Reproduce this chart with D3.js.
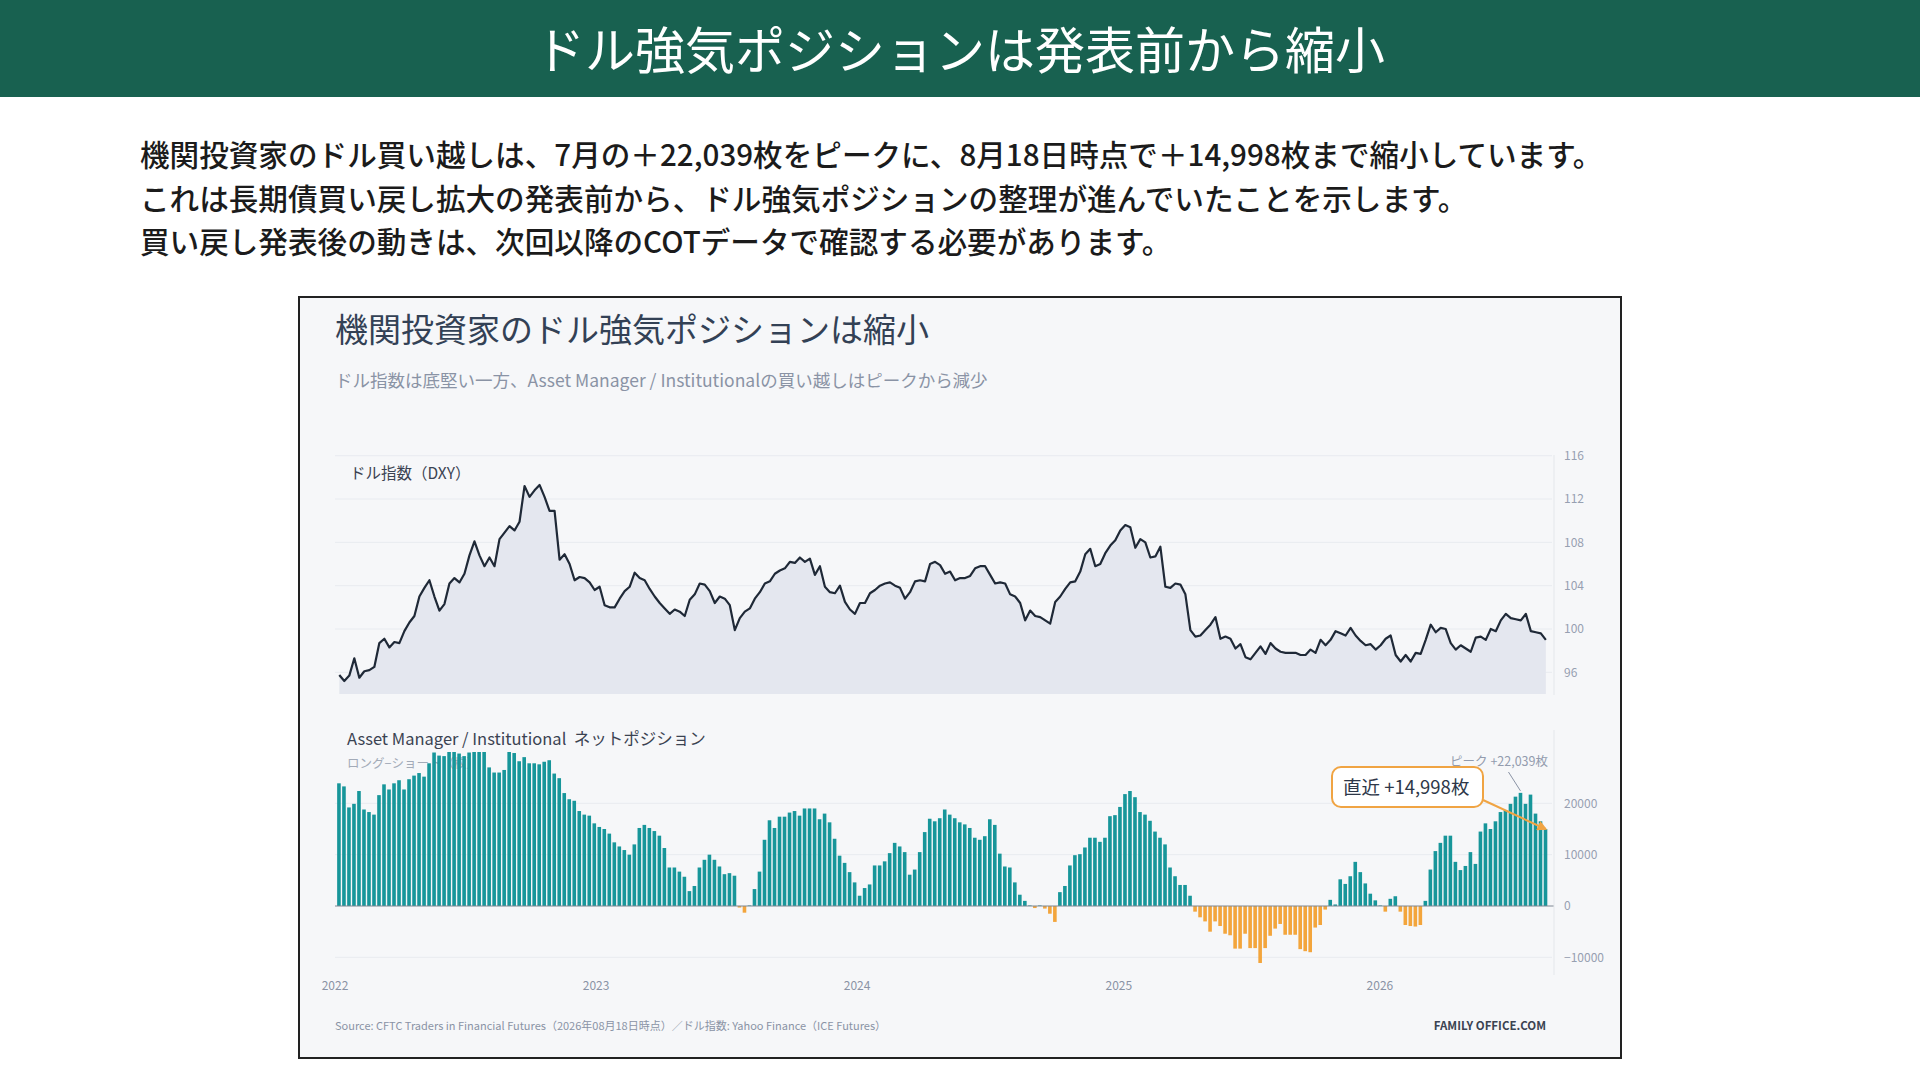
<!DOCTYPE html>
<html>
  <head>
    <meta charset="utf-8" />
    <title>ドル強気ポジションは発表前から縮小</title>
    <script src="https://cdn.jsdelivr.net/npm/d3@7"></script>
    <style>
      body { margin: 0; background: #fff; }
      svg text { font-family: "Noto Sans CJK JP", "Noto Sans", sans-serif; white-space: pre; }
    </style>
  </head>

  <body>
    <svg width="1920" height="1080"></svg>

    <script type="text/javascript">
      // weekly COT report dates (Tuesdays)
      var firstDate = new Date(2022, 0, 4),
        lastDate = new Date(2026, 7, 18);

      // Asset Manager / Institutional net position (contracts)
      var netPos = [
        23900, 23300, 19200, 19900, 22400, 18800, 18300, 17800, 21600, 23700,
        22700, 23900, 24500, 22700, 24700, 25400, 25900, 25200, 27800, 29900,
        29300, 29200, 30300, 30300, 29700, 29200, 29900, 30300, 30300, 30300,
        27000, 26000, 26000, 26500, 30300, 29800, 28200, 29000, 27800, 27800,
        27600, 28100, 28400, 25800, 24900, 22000, 20800, 20500, 18500, 17800,
        17600, 16100, 15400, 15000, 14100, 12400, 11600, 10900, 10000, 12000,
        15200, 15800, 15200, 14600, 13700, 11300, 7500, 7500, 6700, 5700,
        2900, 3900, 7500, 9000, 10000, 9000, 7700, 6200, 6400, 5900,
        -300, -1300, 100, 3300, 6700, 12900, 16700, 15200, 17400, 17400,
        18200, 18500, 17600, 19000, 19000, 19000, 16900, 18000, 16300, 13100,
        9800, 8400, 6600, 4600, 2000, 3500, 4200, 7900, 7900, 8700,
        10300, 12300, 11600, 10500, 6100, 7100, 10500, 14400, 17000, 16500,
        17100, 18800, 17800, 17100, 16300, 15900, 15200, 13300, 12900, 13600,
        16900, 15800, 10200, 7700, 7500, 4600, 2200, 1000, 100, -400,
        100, -500, -1500, -3100, 2700, 3900, 7900, 9900, 10100, 11400,
        13300, 13300, 12500, 13300, 17500, 17700, 19300, 21800, 22400, 21200,
        18300, 17800, 16600, 14500, 13300, 12000, 7500, 5800, 4100, 4100,
        2000, -1100, -2200, -3000, -5000, -3000, -3900, -5400, -5700, -8300,
        -8300, -5400, -8200, -8200, -11100, -8200, -5800, -4400, -3500, -5600,
        -5600, -5600, -8400, -8800, -9000, -4200, -3700, -700, 1200, 300,
        5200, 4300, 5800, 8600, 6600, 4400, 2400, 1100, 100, -1100,
        1400, 1900, -1100, -3700, -3900, -4000, -3700, 1000, 7100, 10700,
        12300, 13700, 13700, 8600, 7000, 7800, 10500, 8200, 14500, 16100,
        15000, 16500, 18300, 18700, 19900, 21300, 22039, 19900, 21700, 18000,
        16500, 14998
      ];

      // Dollar index (DXY), weekly close
      var dxy = [
        95.75, 95.2, 95.7, 97.3, 95.5, 96.1, 96.2, 96.5, 98.7, 99.1,
        98.3, 98.8, 98.7, 99.8, 100.6, 101.2, 103.0, 103.8, 104.5, 103.0,
        101.7, 102.3, 104.2, 104.7, 104.3, 105.1, 106.8, 108.1, 106.8, 105.8,
        106.6, 105.8, 108.3, 108.9, 109.5, 109.1, 109.9, 113.2, 112.2, 112.8,
        113.3, 112.2, 110.9, 110.9, 106.4, 106.9, 106.0, 104.5, 104.8, 104.7,
        104.3, 103.6, 103.9, 102.2, 102.0, 102.0, 102.8, 103.5, 103.9, 105.2,
        104.7, 104.5, 103.7, 103.0, 102.4, 101.9, 101.4, 101.8, 101.6, 101.2,
        102.7, 103.2, 104.2, 104.1, 103.5, 102.4, 103.0, 102.8, 102.2, 99.9,
        101.0, 101.6, 101.9, 102.8, 103.4, 104.2, 104.4, 105.1, 105.4, 105.6,
        106.2, 106.1, 106.6, 106.2, 106.5, 105.0, 105.8, 103.9, 103.4, 103.3,
        104.0, 102.5, 101.8, 101.4, 102.4, 102.4, 103.3, 103.6, 104.0, 104.2,
        104.3, 104.0, 103.8, 102.8, 103.4, 104.4, 104.5, 104.4, 106.0, 106.2,
        105.9, 105.1, 105.3, 104.5, 104.7, 104.7, 104.9, 105.6, 105.8, 105.8,
        105.0, 104.2, 104.3, 104.2, 103.2, 103.0, 102.4, 100.8, 101.7, 101.2,
        101.1, 100.8, 100.5, 102.5, 103.0, 103.7, 104.3, 104.4, 105.3, 106.9,
        107.4, 105.8, 106.0, 107.0, 107.7, 108.2, 109.1, 109.6, 109.4, 107.5,
        108.3, 108.0, 106.6, 106.7, 107.6, 103.9, 103.8, 104.2, 104.1, 103.2,
        99.9, 99.3, 99.4, 99.9, 100.4, 101.1, 99.1, 99.3, 99.1, 98.2,
        98.6, 97.4, 97.2, 97.8, 98.4, 97.7, 98.7, 98.2, 97.9, 97.8,
        97.8, 97.8, 97.6, 97.6, 98.1, 97.8, 99.0, 98.5, 99.0, 99.8,
        99.6, 99.4, 100.1, 99.4, 98.9, 98.5, 98.6, 98.1, 98.5, 99.1,
        99.4, 97.6, 97.0, 97.6, 97.0, 97.8, 97.7, 99.0, 100.4, 99.7,
        100.1, 100.0, 98.7, 98.1, 98.5, 98.2, 97.9, 99.2, 99.3, 99.0,
        100.0, 99.8, 100.8, 101.4, 101.0, 100.9, 100.8, 101.4, 99.8, 99.7,
        99.6, 99.0
      ];

      var yearTicks = [2022, 2023, 2024, 2025, 2026];
      var dxyTicks = [96, 100, 104, 108, 112, 116];
      var posTicks = [-10000, 0, 10000, 20000];

      var bodyLines = [
        "機関投資家のドル買い越しは、7月の＋22,039枚をピークに、8月18日時点で＋14,998枚まで縮小しています。",
        "これは長期債買い戻し拡大の発表前から、ドル強気ポジションの整理が進んでいたことを示します。",
        "買い戻し発表後の動きは、次回以降のCOTデータで確認する必要があります。"
      ];

      var dates = d3.timeTuesday.range(firstDate, d3.timeDay.offset(lastDate, 1));
      var data = dates.map(function (d, i) {
        // DXY is the Friday close of the same week
        return { date: d, fri: d3.timeDay.offset(d, 3), pos: netPos[i], dxy: dxy[i] };
      });

      var svg = d3.select("svg");

      // header band
      svg.append("rect").attr("width", 1920).attr("height", 97).attr("fill", "#186150");
      svg.append("text")
        .attr("x", 960).attr("y", 69)
        .attr("text-anchor", "middle")
        .attr("fill", "#fff")
        .attr("font-size", 50)
        .attr("font-weight", 400)
        .text("ドル強気ポジションは発表前から縮小");

      svg.selectAll(".body-line")
        .data(bodyLines)
        .enter()
        .append("text")
        .attr("class", "body-line")
        .attr("x", 140)
        .attr("y", function (d, i) { return 166 + i * 43.5; })
        .attr("fill", "#1b1b1b")
        .attr("font-size", 29.6)
        .attr("font-weight", 500)
        .text(function (d) { return d; });

      // chart card
      svg.append("rect")
        .attr("x", 299).attr("y", 297)
        .attr("width", 1322).attr("height", 761)
        .attr("fill", "#f6f7f9")
        .attr("stroke", "#222")
        .attr("stroke-width", 2);

      svg.append("text")
        .attr("x", 335).attr("y", 342)
        .attr("fill", "#334155")
        .attr("font-size", 33)
        .text("機関投資家のドル強気ポジションは縮小");

      svg.append("text")
        .attr("x", 335).attr("y", 387)
        .attr("fill", "#8a93a5")
        .attr("font-size", 17.5)
        .text("ドル指数は底堅い一方、Asset Manager / Institutionalの買い越しはピークから減少");

      var left = 335, right = 1548, axisX = 1554;

      var x = d3.scaleTime()
        .domain([new Date(2022, 0, 1), new Date(2026, 7, 24)])
        .range([left, right]);

      // ---- DXY panel ----
      var yD = d3.scaleLinear().domain([94, 116]).range([694, 455.7]);

      svg.append("g")
        .selectAll("line")
        .data(dxyTicks)
        .enter()
        .append("line")
        .attr("x1", left).attr("x2", axisX - 2)
        .attr("y1", function (d) { return yD(d); })
        .attr("y2", function (d) { return yD(d); })
        .attr("stroke", "#e8ebf0");

      var area = d3.area()
        .x(function (d) { return x(d.fri); })
        .y0(yD(94))
        .y1(function (d) { return yD(d.dxy); });

      var line = d3.line()
        .x(function (d) { return x(d.fri); })
        .y(function (d) { return yD(d.dxy); });

      svg.append("path").attr("d", area(data)).attr("fill", "#e4e7ef");
      svg.append("path")
        .attr("d", line(data))
        .attr("fill", "none")
        .attr("stroke", "#1f2937")
        .attr("stroke-width", 2.2)
        .attr("stroke-linejoin", "round");

      var dAxis = svg.append("g")
        .attr("transform", "translate(" + axisX + ",0)")
        .call(d3.axisRight(yD).tickValues(dxyTicks).tickSize(0).tickPadding(10));
      dAxis.select(".domain").attr("stroke", "#e4e7eb").attr("d", "M0,455V695");
      dAxis.selectAll("text")
        .attr("fill", "#97a0b1")
        .attr("font-size", 12)
        .style("font-family", "'Noto Sans CJK JP', sans-serif");

      svg.append("text")
        .attr("x", 350).attr("y", 479)
        .attr("fill", "#3b4352")
        .attr("font-size", 15.5)
        .text("ドル指数（DXY）");

      // ---- net position panel ----
      var yP = d3.scaleLinear().domain([-13440, 30000]).range([975, 752]);
      var bw = 3.6;

      svg.append("g")
        .selectAll("line")
        .data(posTicks.filter(function (d) { return d !== 0; }))
        .enter()
        .append("line")
        .attr("x1", left).attr("x2", axisX - 2)
        .attr("y1", function (d) { return yP(d); })
        .attr("y2", function (d) { return yP(d); })
        .attr("stroke", "#e8ebf0");

      svg.append("text")
        .attr("x", 347).attr("y", 745)
        .attr("fill", "#3b4352")
        .attr("font-size", 16.5)
        .text("Asset Manager / Institutional  ネットポジション");

      svg.append("text")
        .attr("x", 347).attr("y", 768)
        .attr("fill", "#a3abb8")
        .attr("font-size", 12.5)
        .text("ロング−ショート（枚）");

      svg.append("clipPath").attr("id", "clipBars")
        .append("rect").attr("x", left - 2).attr("y", 752).attr("width", 1230).attr("height", 230);

      svg.append("g")
        .attr("clip-path", "url(#clipBars)")
        .selectAll("rect")
        .data(data)
        .enter()
        .append("rect")
        .attr("x", function (d) { return x(d.date); })
        .attr("width", bw)
        .attr("y", function (d) { return yP(Math.max(0, d.pos)); })
        .attr("height", function (d) { return Math.abs(yP(d.pos) - yP(0)); })
        .attr("fill", function (d) { return d.pos >= 0 ? "#17969a" : "#f3a53c"; });

      svg.append("line")
        .attr("x1", left).attr("x2", axisX)
        .attr("y1", yP(0)).attr("y2", yP(0))
        .attr("stroke", "#7f8794")
        .attr("stroke-width", 1.2);

      var pAxis = svg.append("g")
        .attr("transform", "translate(" + axisX + ",0)")
        .call(d3.axisRight(yP).tickValues(posTicks).tickSize(0).tickPadding(10).tickFormat(d3.format("d")));
      pAxis.select(".domain").attr("stroke", "#e4e7eb").attr("d", "M0,730V975");
      pAxis.selectAll("text")
        .attr("fill", "#97a0b1")
        .attr("font-size", 12)
        .style("font-family", "'Noto Sans CJK JP', sans-serif");

      // x axis labels
      svg.append("g")
        .selectAll("text")
        .data(yearTicks)
        .enter()
        .append("text")
        .attr("x", function (d) { return x(new Date(d, 0, 1)); })
        .attr("y", 990)
        .attr("text-anchor", "middle")
        .attr("fill", "#8a93a5")
        .attr("font-size", 12)
        .text(function (d) { return d; });

      // annotations
      var peak = data[236], last = data[data.length - 1];
      var px = x(peak.date) + bw / 2;
      svg.append("line")
        .attr("x1", px - 12).attr("y1", 772)
        .attr("x2", px).attr("y2", yP(peak.pos) - 2)
        .attr("stroke", "#8a93a5").attr("stroke-width", 1);
      svg.append("text")
        .attr("x", right).attr("y", 766)
        .attr("text-anchor", "end")
        .attr("fill", "#939cae")
        .attr("font-size", 12.5)
        .text("ピーク +22,039枚");

      svg.append("defs").append("marker")
        .attr("id", "arrow")
        .attr("viewBox", "0 0 10 10")
        .attr("refX", 8).attr("refY", 5)
        .attr("markerWidth", 5).attr("markerHeight", 5)
        .attr("orient", "auto")
        .append("path").attr("d", "M0,0L10,5L0,10z").attr("fill", "#f0a443");

      svg.append("line")
        .attr("x1", 1483).attr("y1", 800)
        .attr("x2", x(last.date) + bw / 2).attr("y2", yP(last.pos))
        .attr("stroke", "#f0a443").attr("stroke-width", 2)
        .attr("marker-end", "url(#arrow)");

      svg.append("rect")
        .attr("x", 1332).attr("y", 767)
        .attr("width", 151).attr("height", 40)
        .attr("rx", 9)
        .attr("fill", "#fff")
        .attr("stroke", "#f0a443")
        .attr("stroke-width", 2);
      svg.append("text")
        .attr("x", 1343).attr("y", 794)
        .attr("fill", "#2d3748")
        .attr("font-size", 18.5)
        .text("直近 +14,998枚");

      // footer
      svg.append("text")
        .attr("x", 335).attr("y", 1030)
        .attr("fill", "#8a93a5")
        .attr("font-size", 11)
        .text("Source: CFTC Traders in Financial Futures（2026年08月18日時点）／ドル指数: Yahoo Finance（ICE Futures）");
      svg.append("text")
        .attr("x", 1546).attr("y", 1030)
        .attr("text-anchor", "end")
        .attr("fill", "#3b4352")
        .attr("font-size", 11.5)
        .attr("font-weight", 600)
        .text("FAMILY OFFICE.COM");
    </script>
  </body>
</html>
